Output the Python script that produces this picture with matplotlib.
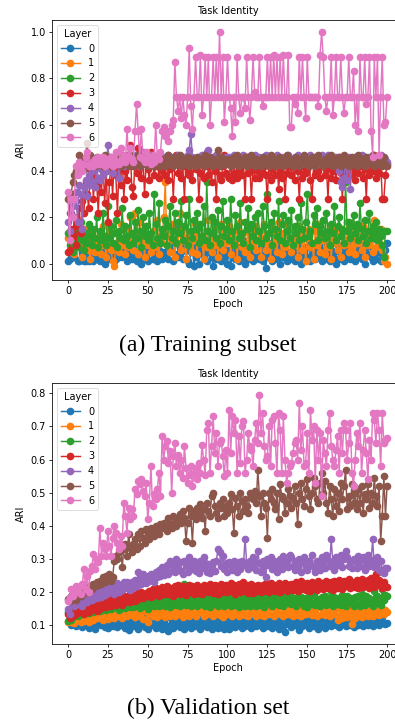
import numpy as np
import matplotlib
matplotlib.use("Agg")
import matplotlib.pyplot as plt

## Epochs 0..200, ARI values
epochs = np.arange(201)
layers = ["0", "1", "2", "3", "4", "5", "6"]

## Training subset, ARI x 100
train_0 = [1,2,4,5,3,7,1,1,8,5,1,1,4,1,6,2,1,3,5,2,
           1,5,3,0,6,2,4,8,3,1,2,5,9,3,4,6,3,1,4,7,
           2,3,5,1,8,4,0,2,6,3,1,5,7,2,9,3,1,6,4,2,
           5,3,12,2,6,9,1,4,15,3,7,5,2,11,6,1,0,5,8,-1,
           3,6,0,9,4,2,7,1,5,10,3,-1,6,2,8,4,1,7,3,5,
           0,6,-1,4,9,2,5,1,7,3,10,0,6,2,4,8,1,5,3,6,
           2,7,1,4,-2,6,3,9,1,5,2,8,4,0,6,3,7,1,5,2,
           9,3,1,6,4,8,0,5,2,7,3,10,1,4,6,2,8,3,5,1,
           7,2,4,9,1,6,3,5,0,8,2,6,4,1,7,3,5,2,9,4,
           1,6,3,8,2,5,0,7,4,10,3,1,6,2,5,8,1,4,3,6,
           9]
train_1 = [11,5,9,12,4,14,10,7,12,3,15,8,11,6,2,13,9,5,10,7,
           12,4,16,8,3,10,14,6,1,-1,9,13,5,17,8,11,4,15,7,20,
           10,6,22,13,4,18,9,12,3,16,8,11,5,14,10,7,19,4,12,9,
           20,35,8,13,5,17,10,3,14,9,22,6,11,15,2,12,8,18,5,10,
           13,4,16,9,11,2,14,7,19,10,5,12,8,15,3,11,17,6,13,9,
           10,16,4,12,8,14,2,11,18,7,13,5,9,15,3,12,8,16,6,10,
           14,3,11,17,6,9,13,2,15,8,12,5,18,10,4,13,7,16,9,11,
           5,14,8,12,3,16,10,6,13,1,11,15,7,9,2,14,8,17,5,12,
           10,4,13,7,16,2,11,9,15,6,12,3,14,8,10,18,5,13,7,11,
           4,15,9,12,6,16,3,11,8,14,10,5,19,7,12,9,15,6,1,3,
           0]
train_2 = [13,8,11,5,9,14,7,12,18,10,6,13,9,17,12,8,15,11,20,7,
           14,10,22,12,8,25,11,16,9,13,19,7,14,11,24,10,16,12,8,21,
           13,9,18,11,23,14,7,20,12,16,10,22,13,8,30,17,11,26,9,15,
           12,19,8,16,25,11,14,22,9,18,13,27,10,16,21,8,28,14,11,19,
           15,22,9,17,12,25,10,35,14,8,20,13,18,11,23,9,16,27,12,15,
           19,10,28,14,8,21,16,11,26,13,9,18,15,24,7,17,12,20,10,22,
           14,9,25,16,11,30,13,18,8,22,15,12,27,10,17,21,9,14,19,11,
           23,8,16,13,20,10,26,15,11,18,30,12,14,9,21,17,24,10,16,13,
           19,11,22,14,8,17,13,25,10,16,20,12,15,9,35,14,18,11,16,21,
           13,17,10,26,15,12,19,9,14,22,11,16,13,18,10,15,12,8,3,14,
           14]
train_3 = [5,6,15,12,20,8,16,24,13,27,22,35,30,24,41,38,28,42,35,22,
           37,31,44,26,40,18,35,43,29,46,38,22,41,34,47,28,40,36,44,51,
           33,29,45,39,50,42,37,46,30,43,41,36,48,44,38,42,46,37,45,40,
           43,38,46,36,41,45,28,43,47,39,44,37,42,28,45,40,38,46,36,43,
           41,45,28,39,44,37,42,46,38,43,35,45,40,28,44,38,36,42,47,39,
           38,37,43,36,39,45,37,40,42,38,44,28,46,39,41,28,43,37,45,40,
           37,44,39,42,38,28,45,36,41,43,38,46,32,40,37,44,28,39,42,45,
           38,43,36,45,40,28,42,37,44,39,41,46,36,28,43,38,45,40,37,42,
           44,38,41,28,45,37,40,43,36,42,46,39,28,44,37,41,45,38,43,40,
           36,44,39,42,46,37,41,28,45,38,43,40,47,37,42,39,44,28,28,38,
           43]
train_4 = [18,14,22,25,28,31,18,34,30,15,33,36,29,38,34,40,35,33,42,37,
           36,41,38,43,40,51,44,46,39,45,47,43,37,44,46,42,45,47,43,44,
           45,43,47,44,46,42,45,48,44,43,46,45,47,43,44,46,45,43,47,44,
           45,46,43,47,44,45,46,43,44,47,45,43,46,44,45,47,49,56,46,44,
           45,43,46,44,47,45,46,48,49,45,44,46,43,47,45,44,46,45,43,46,
           44,46,45,43,47,45,44,46,43,45,47,44,46,45,43,44,46,47,45,44,
           46,43,45,44,47,46,45,43,44,46,45,47,44,43,46,45,44,46,47,45,
           43,45,46,44,47,45,43,46,44,45,46,43,47,44,45,46,44,43,45,47,
           46,44,45,47,43,46,45,44,46,43,40,35,33,37,44,36,46,32,45,44,
           46,43,45,44,47,45,46,43,44,46,45,47,44,46,43,45,47,46,44,45,
           44]
train_5 = [28,22,30,35,38,40,42,47,43,45,41,46,52,44,47,43,45,42,46,44,
           43,45,42,47,44,43,46,42,45,44,47,43,45,42,46,44,43,45,42,47,
           44,42,45,43,47,42,44,46,43,45,42,44,47,43,42,45,44,46,42,43,
           45,42,44,47,43,45,42,46,44,43,47,42,45,44,43,46,42,44,45,43,
           42,46,43,45,44,42,47,43,44,46,42,45,43,44,49,42,46,43,45,44,
           43,45,42,44,46,43,47,42,45,43,44,46,42,45,43,47,44,42,45,43,
           44,42,46,43,45,44,42,47,43,45,42,44,46,43,45,42,44,47,43,44,
           45,42,44,46,43,42,45,44,47,43,45,42,44,46,43,42,45,47,44,43,
           42,45,44,46,43,47,42,44,45,43,46,42,44,47,43,45,42,44,46,43,
           44,42,47,43,45,44,42,46,43,45,44,47,42,43,46,44,45,42,46,43,
           42]
train_6 = [31,10,28,20,28,42,38,44,42,40,43,46,48,42,43,44,42,45,43,46,
           44,43,46,42,45,43,44,46,42,45,48,44,43,50,45,47,44,58,46,50,
           45,44,57,69,57,46,58,45,44,48,46,45,43,47,44,60,46,45,48,57,
           59,55,57,53,57,60,62,87,72,66,72,63,72,64,60,72,93,68,58,72,
           89,72,72,90,64,72,89,72,89,60,72,89,72,89,72,100,72,89,61,72,
           89,72,67,55,72,61,89,72,65,72,72,67,89,72,62,72,89,74,72,72,
           89,72,68,72,72,89,72,89,72,90,72,89,72,89,72,90,72,72,90,59,
           59,72,69,72,65,89,72,89,72,63,89,72,72,72,72,72,72,68,90,100,
           89,72,66,72,72,89,64,72,89,72,72,89,72,65,72,72,89,72,72,83,
           60,72,57,89,72,72,89,69,72,89,57,46,89,72,89,47,72,89,60,61,
           72]

## Validation set, ARI x 1000
val_0 = [140,112,100,125,108,98,122,105,130,95,118,102,125,92,110,122,100,90,118,105,
         125,100,118,95,130,92,108,122,98,128,110,95,120,102,125,108,92,130,85,112,
         122,98,128,105,90,118,100,125,95,115,88,122,100,130,108,92,118,102,125,90,
         110,122,98,82,125,105,92,118,100,128,95,120,105,90,125,100,118,92,122,105,
         98,128,110,90,120,100,125,95,122,105,88,118,100,128,92,112,125,98,90,120,
         105,88,125,100,118,95,122,105,128,92,115,98,125,102,118,92,122,105,98,128,
         100,118,92,125,105,98,122,110,92,120,100,128,90,112,122,98,80,118,105,125,
         95,120,100,122,105,85,128,98,120,100,125,92,112,122,98,118,105,88,125,100,
         118,92,122,105,128,98,112,122,100,118,95,125,105,130,98,112,122,100,118,95,
         125,105,100,122,110,98,118,125,100,112,122,98,118,105,128,100,118,125,108,105,
         108]
val_1 = [110,120,112,125,108,130,118,128,110,135,115,130,138,112,132,140,118,135,122,142,
         125,140,118,145,130,120,142,128,148,122,138,150,128,145,122,152,135,128,155,140,
         132,150,125,155,138,128,152,120,145,160,112,135,150,128,155,140,125,152,132,148,
         138,125,155,145,130,160,140,128,152,135,165,142,125,155,138,162,130,148,158,135,
         128,155,140,165,145,130,158,135,150,170,138,128,155,142,162,132,150,125,160,142,
         135,158,142,128,155,138,165,128,150,142,158,132,160,130,145,155,138,162,128,150,
         145,132,158,128,160,142,135,155,165,130,150,142,158,135,162,128,155,142,135,160,
         150,130,158,142,132,162,128,155,145,135,160,148,200,132,155,142,128,155,165,135,
         150,132,160,142,128,155,170,135,152,118,130,148,122,155,135,125,148,128,105,138,
         122,152,130,145,125,155,132,148,128,160,138,128,152,140,165,132,155,142,135,148,
         140]
val_2 = [115,125,118,138,130,145,128,152,140,135,155,142,160,138,150,165,142,158,148,162,
         145,162,150,168,148,158,172,150,162,155,170,158,148,168,160,175,152,165,178,155,
         168,155,175,160,180,152,172,165,158,178,150,175,162,182,158,170,185,160,172,165,
         178,160,185,168,155,180,172,190,162,178,158,185,170,225,162,178,188,160,180,168,
         182,158,190,165,178,185,160,188,172,155,182,170,165,190,158,178,188,165,158,182,
         168,185,160,178,192,162,180,155,178,170,188,160,182,172,158,190,168,180,160,185,
         178,162,185,155,190,168,175,188,160,182,170,195,162,175,188,160,182,168,178,192,
         165,182,172,158,190,168,185,175,160,182,155,188,172,165,195,162,180,172,158,185,
         172,190,162,182,168,205,160,185,175,165,182,162,192,175,158,188,168,182,178,160,
         185,165,188,160,195,175,162,190,168,182,178,160,205,168,188,175,162,210,178,192,
         188]
val_3 = [135,122,145,128,152,135,158,140,162,148,135,158,165,142,168,150,160,170,145,162,
         172,152,165,178,155,170,182,158,172,180,162,185,168,178,162,188,170,182,192,172,
         185,192,175,198,180,192,202,182,195,198,188,205,185,210,192,212,195,188,205,215,
         195,210,218,195,212,200,190,218,202,222,195,212,220,200,192,215,222,200,218,195,
         210,222,198,215,195,222,205,218,200,225,208,198,222,205,195,218,225,200,212,222,
         200,218,228,205,222,195,212,225,200,218,232,205,222,198,212,225,198,218,205,222,
         212,200,222,205,228,215,200,228,208,222,205,215,228,200,222,210,228,205,222,212,
         225,208,218,232,205,220,235,210,225,208,228,218,205,232,215,225,208,235,215,228,
         210,228,235,212,225,232,208,235,222,212,238,222,210,235,218,228,240,212,232,222,
         215,238,212,228,240,215,232,222,238,212,242,228,215,255,222,238,218,212,232,218,
         215]
val_4 = [150,135,170,180,158,185,165,190,172,160,185,195,172,190,200,178,195,205,182,200,
         205,185,212,192,218,198,210,222,205,195,218,228,200,220,208,230,212,232,215,208,
         232,212,238,218,262,240,225,255,242,228,250,235,255,240,230,260,245,268,248,275,
         252,270,282,255,295,265,285,262,300,272,290,265,255,295,278,262,305,282,270,295,
         265,285,258,295,272,305,288,262,285,258,272,290,265,295,330,322,278,310,270,288,
         262,290,282,268,295,278,262,290,270,295,282,362,288,270,295,275,305,292,268,325,
         288,262,295,278,245,300,282,305,270,295,288,262,282,300,270,310,282,295,275,312,
         305,280,268,295,275,300,262,290,305,275,268,295,282,312,275,262,295,282,268,305,
         288,272,312,298,280,360,292,268,305,282,292,312,275,300,325,305,280,295,272,300,
         295,272,310,280,300,305,268,295,312,280,298,360,275,292,305,268,295,262,258,272,
         272]
val_5 = [180,175,190,185,200,178,195,205,190,210,198,205,215,200,220,210,225,218,230,222,
         235,225,245,230,250,240,255,235,245,295,310,300,320,340,275,330,345,310,375,335,
         320,345,360,330,375,340,385,365,350,390,380,360,395,385,370,400,390,375,405,395,
         410,400,385,425,405,395,430,410,400,420,435,410,445,425,355,410,455,430,350,445,
         420,455,440,465,425,450,385,470,445,430,490,500,460,440,425,470,455,480,430,460,
         440,470,495,450,380,485,460,430,500,475,445,480,460,440,500,490,480,505,470,570,
         490,430,500,470,455,365,500,480,510,470,450,500,420,525,490,480,440,470,510,490,
         455,485,520,470,405,500,530,480,460,510,540,490,450,500,545,520,480,470,530,560,
         500,535,470,440,520,480,430,510,460,500,445,530,480,520,570,450,490,460,525,470,
         500,450,510,470,520,440,495,480,525,455,500,470,545,490,460,520,355,430,550,430,
         520]
val_6 = [175,185,210,190,205,220,200,215,195,225,270,210,250,200,265,280,315,270,300,290,
         395,310,350,330,310,385,340,310,365,400,380,350,330,370,340,470,430,380,455,420,
         450,430,510,495,535,525,540,505,490,530,420,470,580,460,495,480,510,560,490,670,
         600,640,655,590,625,500,610,650,580,615,560,600,545,640,575,530,555,580,520,560,
         575,540,590,560,645,600,555,690,710,560,640,730,620,680,580,650,660,610,550,630,
         560,750,620,730,680,720,560,670,590,700,715,560,600,680,640,630,580,660,710,650,
         795,680,740,640,600,610,700,580,720,730,650,560,740,690,560,730,600,530,560,580,
         590,620,650,660,600,770,630,700,580,590,680,560,750,660,700,530,690,600,680,490,
         660,620,580,690,740,640,600,580,630,670,560,690,620,710,690,600,650,710,560,520,
         600,680,640,710,560,630,690,620,540,660,600,740,720,650,740,690,580,740,650,660,
         665]

train = [np.array(s) / 100 for s in [train_0, train_1, train_2, train_3, train_4, train_5, train_6]]
val = [np.array(s) / 1000 for s in [val_0, val_1, val_2, val_3, val_4, val_5, val_6]]

fs = 7
lw_ax = 0.57
fig = plt.figure(figsize=(3.95, 7.2), dpi=100)

def panel(rect, series, yticks):
    ax = fig.add_axes(rect)
    for i, s in enumerate(series):
        ax.plot(epochs, s, marker="o", markersize=4.5, linewidth=1.05, color="C" + str(i), label=layers[i])
    ax.set_title("Task Identity", fontsize=fs, pad=4)
    ax.set_xlabel("Epoch", fontsize=fs, labelpad=2)
    ax.set_ylabel("ARI", fontsize=fs, labelpad=3)
    ax.set_xticks([0, 25, 50, 75, 100, 125, 150, 175, 200])
    ax.set_yticks(yticks)
    ax.tick_params(labelsize=fs, length=2.5, width=lw_ax, pad=2)
    for sp in ax.spines.values():
        sp.set_linewidth(lw_ax)
    leg = ax.legend(title="Layer", loc="upper left", fontsize=fs, title_fontsize=fs,
                    markerscale=1.0, handlelength=2.0, borderpad=0.4, labelspacing=0.5)
    leg.get_frame().set_linewidth(lw_ax)
    return ax

ax1 = panel([52 / 395, 440 / 720, 351 / 395, 260 / 720], train, [0.0, 0.2, 0.4, 0.6, 0.8, 1.0])
ax2 = panel([52 / 395, 76 / 720, 351 / 395, 261 / 720], val, [0.1, 0.2, 0.3, 0.4, 0.5, 0.6, 0.7, 0.8])

fig.text(208 / 395, 1 - 345 / 720, "(a) Training subset", ha="center", va="center",
         fontsize=17, family="Liberation Serif")
fig.text(208 / 395, 1 - 708 / 720, "(b) Validation set", ha="center", va="center",
         fontsize=17, family="Liberation Serif")

fig.savefig("out.png", dpi=100)
